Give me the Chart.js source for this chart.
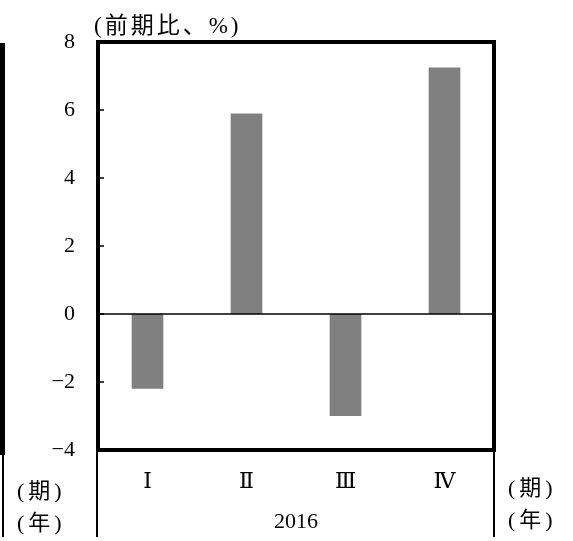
<!DOCTYPE html>
<html>
<head>
<meta charset="utf-8">
<script src="https://cdn.jsdelivr.net/npm/chart.js@4.4.0/dist/chart.umd.min.js"></script>
<style>
  html, body { margin: 0; padding: 0; background: #fff; }
  canvas { display: block; }
</style>
</head>
<body>
<canvas id="chart" width="573" height="541"></canvas>
<script>
// 四半期別 前期比(%)
const quarters = ['Ⅰ', 'Ⅱ', 'Ⅲ', 'Ⅳ'];
const yearLabel = '2016';
const changes = [-2.2, 5.9, -3.0, 7.25];
const yMin = -4, yMax = 8, yStep = 2;

const FONT = '"Liberation Serif", "Noto Sans CJK JP", serif';
const ROMAN_FONT = '"DejaVu Serif", "Liberation Serif", "Noto Sans CJK JP", serif';

// 枠・ゼロ線・区切り線・注記を描く
const decor = {
    id: 'decor',
    afterDatasetsDraw(chart) {
        const { ctx, chartArea: a, scales: { x, y } } = chart;
        ctx.save();
        ctx.strokeStyle = '#000';

        // ゼロ線
        ctx.lineWidth = 1.5;
        ctx.beginPath();
        ctx.moveTo(a.left, y.getPixelForValue(0));
        ctx.lineTo(a.right, y.getPixelForValue(0));
        ctx.stroke();

        // 目盛り(内向き)
        for (let v = yMin; v <= yMax; v += yStep) {
            const py = y.getPixelForValue(v);
            ctx.beginPath();
            ctx.moveTo(a.left, py);
            ctx.lineTo(a.left + 6, py);
            ctx.stroke();
        }

        // 外枠
        ctx.lineWidth = 4;
        ctx.strokeRect(a.left, a.top, a.right - a.left, a.bottom - a.top);

        // 年の区切り線
        ctx.lineWidth = 2;
        ctx.beginPath();
        ctx.moveTo(a.left - 1, a.bottom);
        ctx.lineTo(a.left - 1, 537);
        ctx.moveTo(a.right, a.bottom);
        ctx.lineTo(a.right, 537);
        ctx.stroke();

        // 左隣のグラフの端
        ctx.lineWidth = 5;
        ctx.beginPath();
        ctx.moveTo(2.5, 43);
        ctx.lineTo(2.5, 455);
        ctx.stroke();
        ctx.lineWidth = 2;
        ctx.beginPath();
        ctx.moveTo(3, 455);
        ctx.lineTo(3, 537);
        ctx.stroke();

        // テキスト
        ctx.fillStyle = '#000';
        ctx.textBaseline = 'middle';
        ctx.textAlign = 'left';
        ctx.font = '23px ' + FONT;
        ctx.letterSpacing = '3px';
        ctx.fillText('(前期比、%)', 94, 27);
        ctx.font = '22px ' + FONT;
        ctx.letterSpacing = '4px';
        ctx.fillText('(期)', 17, 492);
        ctx.fillText('(年)', 17, 524);
        ctx.fillText('(期)', 508, 489);
        ctx.fillText('(年)', 508, 521);
        ctx.letterSpacing = '0px';
        ctx.textAlign = 'center';
        ctx.fillText(yearLabel, (a.left + a.right) / 2, 522);
        ctx.restore();
    }
};

new Chart(document.getElementById('chart'), {
    type: 'bar',
    data: {
        labels: quarters,
        datasets: [{
            data: changes,
            backgroundColor: '#808080',
            borderWidth: 0,
            categoryPercentage: 1,
            barPercentage: 0.32
        }]
    },
    options: {
        responsive: false,
        animation: false,
        devicePixelRatio: 1,
        layout: { padding: { left: 0, top: 42, right: 79, bottom: 0 } },
        plugins: { legend: { display: false }, tooltip: { enabled: false } },
        scales: {
            x: {
                grid: { display: false, drawTicks: false },
                border: { display: false },
                ticks: { color: '#000', font: { family: ROMAN_FONT, size: 22 }, padding: 19 },
                afterFit(scale) { scale.height = 91; }
            },
            y: {
                min: yMin,
                max: yMax,
                grid: { display: false, drawTicks: false },
                border: { display: false },
                ticks: {
                    stepSize: yStep,
                    color: '#000',
                    font: { family: FONT, size: 22 },
                    padding: 23,
                    callback: v => String(v).replace('-', '−')
                },
                afterFit(scale) { scale.width = 98; }
            }
        }
    },
    plugins: [decor]
});
</script>
</body>
</html>
